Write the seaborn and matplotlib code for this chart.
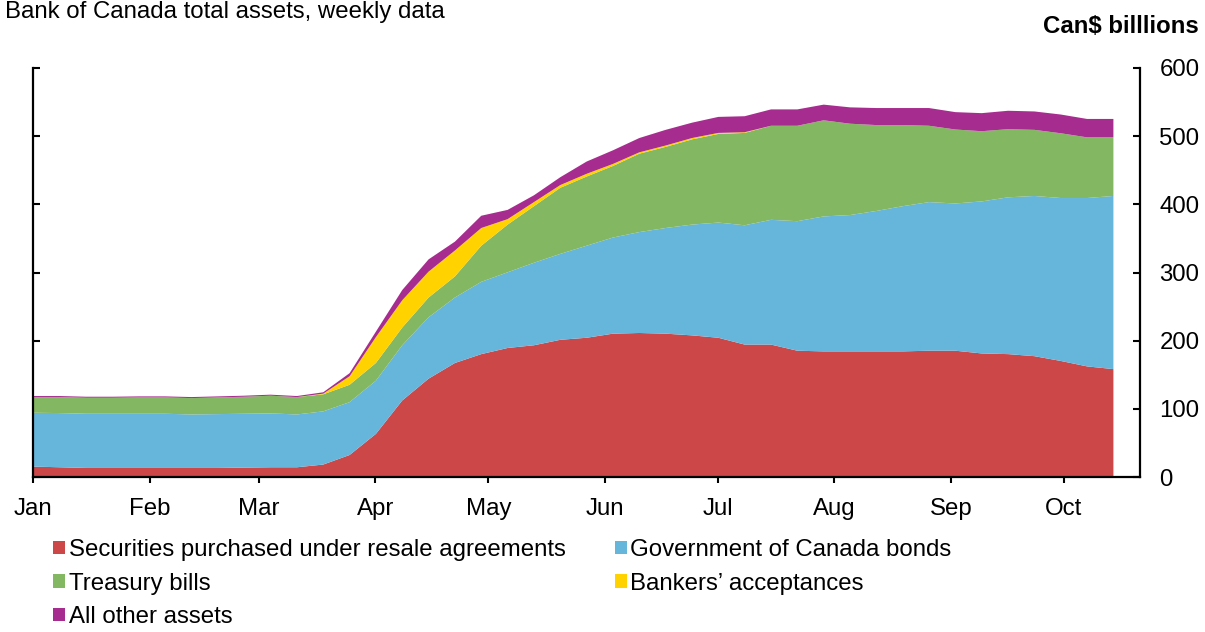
import numpy as np
import pandas as pd
import matplotlib
matplotlib.use("Agg")
import matplotlib.pyplot as plt
import matplotlib.dates as mdates
from matplotlib.patches import Patch
import seaborn as sns

# ---- data (Can$ billions, weekly, Wednesdays 2020) ----
start_date = "2020-01-01"
n_weeks = 42
resale = [16, 15, 14, 14, 14, 14, 14, 14, 14.5, 15, 15, 19, 33, 64, 113, 145, 168, 181, 190, 194,
          202, 205, 211, 212, 211, 208.5, 205, 195, 195, 186, 185, 185, 185, 185, 186, 186, 182, 181,
          178, 171, 163, 159]
goc_bonds = [79, 79.5, 79.5, 79.5, 79.5, 79.5, 78.5, 79, 79, 79, 77.5, 78, 77.5, 78, 81, 90, 96, 106,
             111, 121, 126, 135, 141, 148, 155, 162.5, 169, 175, 183, 190, 198, 200, 206, 213, 218,
             216, 223, 230, 235, 239, 247, 254]
tbills = [23, 23.5, 23.5, 23.5, 24, 24, 24, 24.5, 25, 26, 25.5, 25, 25.5, 26, 26, 29, 31, 53, 70, 83,
          97, 101.5, 105, 115, 119, 125, 130, 135.5, 138, 140, 141, 134, 126, 119, 112, 108.5, 103,
          100, 97, 95, 89, 86]
bankers_acc = [0, 0, 0, 0, 0, 0, 0, 0, 0, 0, 0, 1, 12.5, 38, 40, 38, 38, 26, 8, 6, 4, 4, 3, 2, 2, 2,
               1.5, 1, 0, 0, 0, 0, 0, 0, 0, 0, 0, 0, 0, 0, 0, 0]
other = [1.5, 1.5, 1.5, 1.5, 1.5, 1.5, 1.5, 1.5, 1.5, 1.5, 1.5, 2, 4.5, 8, 15, 18, 13, 18, 13.6, 10,
         11.5, 18, 20, 21, 23, 22.5, 23.5, 23.5, 24, 24, 23, 24, 25, 25, 26, 25.5, 26.5, 27, 27, 27.5,
         27, 27]
series_names = ["Securities purchased under resale agreements", "Government of Canada bonds",
                "Treasury bills", "Bankers\u2019 acceptances", "All other assets"]
month_labels = ["Jan", "Feb", "Mar", "Apr", "May", "Jun", "Jul", "Aug", "Sep", "Oct"]
y_ticks = [0, 100, 200, 300, 400, 500, 600]

colors = ["#CB4748", "#66B5DB", "#84B762", "#FFD200", "#A72C8F"]

dates = pd.date_range(start_date, periods=n_weeks, freq="7D")

sns.set_theme(style="white")
plt.rcParams["font.family"] = ["Liberation Sans", "DejaVu Sans"]
FS = 17.3

fig = plt.figure(figsize=(12.05, 6.32), dpi=100)
ax = fig.add_axes([33 / 1205, 1 - 477 / 632, (1140 - 33) / 1205, (477 - 68) / 632])

ax.stackplot(dates, resale, goc_bonds, tbills, bankers_acc, other, colors=colors,
             linewidth=0, antialiased=True)

x0 = mdates.date2num(pd.Timestamp(start_date))
ax.set_xlim(x0, x0 + 294.2)
ax.set_ylim(0, 600)

month_pos = pd.date_range(start_date, periods=len(month_labels), freq="MS")
ax.set_xticks(month_pos)
ax.set_xticklabels(month_labels, fontsize=FS, color="black")
ax.set_yticks(y_ticks)
ax.set_yticklabels([str(v) for v in y_ticks], fontsize=FS, color="black")

ax.tick_params(axis="y", left=True, right=True, labelleft=False, labelright=True,
               direction="in", length=5, width=1.5, pad=14, colors="black")
ax.tick_params(axis="x", bottom=True, direction="out", length=4, width=1.5, pad=11, colors="black")

for side in ["left", "bottom", "right"]:
    ax.spines[side].set_visible(True)
    ax.spines[side].set_color("black")
    ax.spines[side].set_linewidth(1.6)
ax.spines["top"].set_visible(False)
ax.grid(False)

fig.text(5 / 1205, 1 - 18 / 632, "Bank of Canada total assets, weekly data", fontsize=FS,
         ha="left", va="baseline", color="black")
fig.text(1199 / 1205, 1 - 33 / 632, "Can$ billlions", fontsize=FS, fontweight="bold",
         ha="right", va="baseline", color="black")

handles = [Patch(facecolor=c, edgecolor="none") for c in colors]
order = [0, 2, 4, 1, 3]
fig.legend([handles[i] for i in order], [series_names[i] for i in order],
           loc="upper left", bbox_to_anchor=(53 / 1205, 1 - 539 / 632), ncol=2,
           frameon=False, fontsize=FS, handlelength=0.5, handleheight=0.5,
           handletextpad=0.15, columnspacing=2.05, labelspacing=0.48,
           borderpad=0, borderaxespad=0, labelcolor="black")

fig.savefig("out.png", dpi=100)
